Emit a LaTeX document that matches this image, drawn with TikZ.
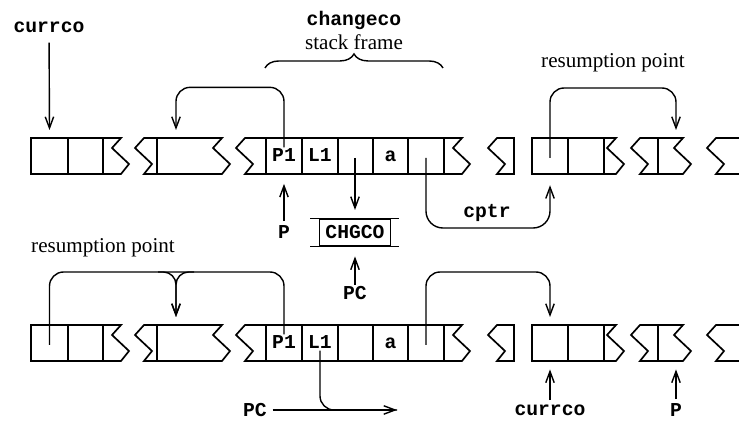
\documentclass[tikz,border=0pt]{standalone}
\usepackage{fontspec}
\setmainfont{Liberation Serif}
\setmonofont{Liberation Mono}
\usetikzlibrary{arrows.meta,calc,decorations.pathreplacing}

\begin{document}
\begin{tikzpicture}[x=0.025cm, y=0.025cm,
    seg/.style={line width=1.2pt, line join=miter},
    lnk/.style={line width=1pt},
    ptr/.style={line width=1pt, -{Straight Barb[length=8pt, width=6pt]}},
    code/.style={font=\fontsize{14}{16}\selectfont\ttfamily\bfseries, inner sep=1pt},
    txt/.style={font=\fontsize{15}{17}\selectfont, inner sep=1pt}]
  \useasboundingbox (0,0) rectangle (739,-425);
  % the two stacks
  \foreach \ry/\r in {-138/t, -325/b}{
    \begin{scope}[shift={(0,\ry)}]
      \draw[seg] (121,0) -- (31,0) -- (31,-36) -- (121,-36) -- (129,-26) -- (112,-10) -- cycle;
      \draw[seg] (68,0) -- (68,-36) (103,0) -- (103,-36);
      \draw[seg] (144,0) -- (222,0) -- (213,-10) -- (230,-26) -- (222,-36) -- (144,-36) -- (152,-26) -- (135,-10) -- cycle;
      \draw[seg] (157,0) -- (157,-36);
      \draw[seg] (245,0) -- (462,0) -- (453,-10) -- (470,-26) -- (462,-36) -- (245,-36) -- (253,-26) -- (236,-10) -- cycle;
      \foreach \x in {266,302,338,373,408,444} \draw[seg] (\x,0) -- (\x,-36);
      \draw[seg] (497,0) -- (514,0) -- (514,-36) -- (497,-36) -- (505,-26) -- (488,-10) -- cycle;
      \draw[seg] (616,0) -- (532,0) -- (532,-36) -- (616,-36) -- (624,-26) -- (607,-10) -- cycle;
      \draw[seg] (568,0) -- (568,-36) (604,0) -- (604,-36);
      \draw[seg] (640,0) -- (683,0) -- (674,-10) -- (691,-26) -- (683,-36) -- (640,-36) -- (648,-26) -- (631,-10) -- cycle;
      \draw[seg] (658,0) -- (658,-36);
      \draw[seg] (739,0) -- (716,0) -- (707,-10) -- (724,-26) -- (716,-36) -- (739,-36);
      \node[code, anchor=base] (\r-p1) at (284,-24) {P1};
      \node[code, anchor=base] (\r-l1) at (320,-24) {L1};
      \node[code, anchor=base] (\r-a) at (390.5,-24) {a};
      \coordinate (\r-c1) at (49.5,-20);
      \coordinate (\r-e) at (355,-20);
      \coordinate (\r-ptr) at (426,-20);
      \coordinate (\r-c5) at (550,-20);
      \coordinate (\r-in2) at (176,8);
      \coordinate (\r-in5) at (550,8);
      \coordinate (\r-in6) at (676,8);
      \coordinate (\r-bp1) at (284,-36);
      \coordinate (\r-b5) at (550,-36);
      \coordinate (\r-b6) at (676,-36);
    \end{scope}
  }
  % upper picture
  \node[code] (cur1) at (49,-27) {currco};
  \draw[ptr, shorten <=6pt] (cur1) -- (t-c1 |- t-in2);
  \draw[ptr, rounded corners=10pt] (t-p1.north) -- ++(0,60) -| (t-in2);
  \node[code] (chgname) at (354,-20) {changeco};
  \node[txt] (frame) at (354,-42) {stack frame};
  \draw[lnk, decorate, decoration={brace, amplitude=10pt}] (265,-68) -- (443,-68);
  \node[txt] (resum1) at (613,-63) {resumption point};
  \draw[ptr, rounded corners=10pt] (t-c5) -- ++(0,70) -| (t-in6);
  \node[code, draw, line width=1pt, minimum width=50.3pt, minimum height=19.1pt, inner sep=0pt] (chg) at (355,-232.5) {CHGCO};
  \draw[lnk] (chg.north west) -- ++(-9,0) (chg.north east) -- ++(8,0)
             (chg.south west) -- ++(-9,0) (chg.south east) -- ++(8,0);
  \draw[ptr, shorten >=6pt] (t-e) -- (chg.north);
  \node[code] (plab1) at (284,-232) {P};
  \draw[ptr, shorten <=2pt, shorten >=7pt] (plab1) -- (t-bp1);
  \node[code] (pclab1) at (355,-293) {PC};
  \draw[ptr, shorten >=7pt] (pclab1) -- (chg.south);
  \node[code] (cptr) at (487,-213) {cptr};
  \draw[ptr, rounded corners=12pt, shorten >=8pt] (t-ptr) -- ++(0,-70) -| (t-b5);
  % lower picture
  \node[txt] (resum2) at (103,-248) {resumption point};
  \draw[lnk, rounded corners=10pt] (b-c1) -- ++(0,73) -| (b-p1.north);
  \draw[ptr, rounded corners=9pt] ($(b-in2)+(-18,45)$) -| (b-in2);
  \draw[ptr, rounded corners=9pt] ($(b-in2)+(18,45)$) -| (b-in2);
  \draw[ptr, rounded corners=10pt] (b-ptr) -- ++(0,73) -| (b-in5);
  \node[code] (cur2) at (550,-410) {currco};
  \draw[ptr, shorten <=2pt, shorten >=6pt] (cur2) -- (b-b5);
  \node[code] (plab2) at (676,-410) {P};
  \draw[ptr, shorten <=2pt, shorten >=6pt] (plab2) -- (b-b6);
  \node[code] (pclab2) at (255,-410) {PC};
  \coordinate (pcend) at (397,-410);
  \draw[ptr, shorten <=3pt] (pclab2) -- (pcend);
  \draw[lnk, rounded corners=10pt] (b-l1.south) |- (pcend);
\end{tikzpicture}
\end{document}
